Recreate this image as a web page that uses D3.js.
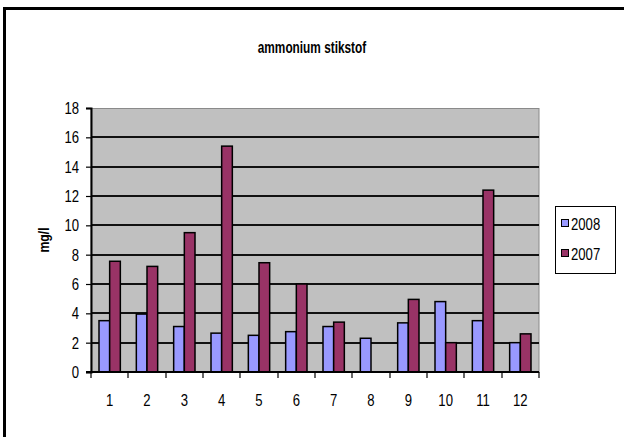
<!DOCTYPE html>
<html>
<head>
<meta charset="utf-8">
<script src="https://cdn.jsdelivr.net/npm/d3@7"></script>
<style>
  html, body { margin: 0; padding: 0; background: #fff; overflow: hidden; }
  svg { display: block; font-family: "Liberation Sans", Arial, sans-serif; }
</style>
</head>
<body>
<svg id="chart" width="624" height="437"></svg>
<script>
// Monthly ammonium nitrogen (mg/l)
const months = ["1","2","3","4","5","6","7","8","9","10","11","12"];
const series = ["2008", "2007"];
const values2008 = [3.5, 3.95, 3.1, 2.65, 2.5, 2.75, 3.1, 2.3, 3.35, 4.8, 3.5, 2.0];
const values2007 = [7.55, 7.2, 9.5, 15.4, 7.45, 6.0, 3.4, 0, 4.95, 2.0, 12.4, 2.6];
const yTicks = [0, 2, 4, 6, 8, 10, 12, 14, 16, 18];
const colors = ["#9999FF", "#993366"];

const svg = d3.select("#chart");
const SX = 0.82; // narrow glyph width

// draws a horizontally condensed label anchored at (x, y)
function label(parent, x, y, txt, opts = {}) {
  return parent.append("text")
    .attr("transform", `translate(${x},${y}) ${opts.rotate ? "rotate(-90) " : ""}scale(${opts.sx || SX},1)`)
    .attr("text-anchor", opts.anchor || "middle")
    .attr("font-size", opts.size || 16)
    .attr("font-weight", opts.bold ? "bold" : null)
    .attr("fill", "#000")
    .text(txt);
}

// outer frame (runs past the right and bottom edges)
svg.append("rect")
  .attr("x", 4.5).attr("y", 8.5).attr("width", 700).attr("height", 600)
  .attr("fill", "#fff").attr("stroke", "#000").attr("stroke-width", 3);

const plot = { left: 91, top: 108, right: 539, bottom: 372 };

const x = d3.scaleBand().domain(months).range([plot.left, plot.right]).padding(0);
const y = d3.scaleLinear().domain([0, 18]).range([plot.bottom, plot.top]);
const barW = x.bandwidth() / 3.5;
const inner = d3.scaleBand().domain(series).range([0, barW * 2]);

// plot background
svg.append("rect")
  .attr("x", plot.left).attr("y", plot.top + 0.5)
  .attr("width", plot.right - plot.left).attr("height", plot.bottom - plot.top)
  .attr("fill", "#C0C0C0").attr("stroke", "#8a8a8a").attr("stroke-width", 1);

// gridlines
svg.append("g").selectAll("line")
  .data(yTicks.filter(d => d > 0 && d < 18))
  .join("line")
  .attr("x1", plot.left).attr("x2", plot.right)
  .attr("y1", d => Math.round(y(d))).attr("y2", d => Math.round(y(d)))
  .attr("stroke", "#111").attr("stroke-width", 2);

// bars
const data = months.map((m, i) => ({ m, vals: [values2008[i], values2007[i]] }));
const groups = svg.append("g").selectAll("g")
  .data(data).join("g")
  .attr("transform", d => `translate(${x(d.m) + (x.bandwidth() - barW * 2) / 2},0)`);
groups.selectAll("rect")
  .data(d => d.vals.map((v, j) => ({ v, s: series[j], j })).filter(e => e.v > 0))
  .join("rect")
  .attr("x", d => inner(d.s))
  .attr("y", d => y(d.v))
  .attr("width", barW)
  .attr("height", d => y(0) - y(d.v))
  .attr("fill", d => colors[d.j])
  .attr("stroke", "#000").attr("stroke-width", 1.5);

// y axis
const yAxis = svg.append("g")
  .attr("transform", `translate(${plot.left},0)`)
  .call(d3.axisLeft(y).tickValues(yTicks).tickSize(5).tickFormat(""));
yAxis.select(".domain").attr("stroke", "#000").attr("stroke-width", 2);
yAxis.selectAll(".tick line").attr("stroke", "#000").attr("stroke-width", 1.2);
yTicks.forEach(t => label(svg, plot.left - 12, y(t) + 6, String(t), { anchor: "end" }));

// x axis with ticks on category boundaries
const xAxisG = svg.append("g").attr("transform", `translate(0,${plot.bottom})`);
xAxisG.append("line")
  .attr("x1", plot.left - 5).attr("x2", plot.right)
  .attr("y1", 0).attr("y2", 0)
  .attr("stroke", "#000").attr("stroke-width", 2);
xAxisG.selectAll("line.tk")
  .data(months.map(m => x(m)).concat([x(months[months.length - 1]) + x.bandwidth()]))
  .join("line").attr("class", "tk")
  .attr("x1", d => Math.round(d)).attr("x2", d => Math.round(d))
  .attr("y1", 0).attr("y2", 6)
  .attr("stroke", "#000").attr("stroke-width", 1.2);
months.forEach(m => label(xAxisG, x(m) + x.bandwidth() / 2, 34, m));

// y axis title
label(svg, 49, (plot.top + plot.bottom) / 2, "mg/l", { rotate: true, bold: true, size: 15 });

// chart title
label(svg, 312, 53, "ammonium stikstof", { bold: true, size: 16, sx: 0.74 });

// legend
const legend = svg.append("g");
legend.append("rect")
  .attr("x", 555.5).attr("y", 206.5).attr("width", 60).attr("height", 67)
  .attr("fill", "#fff").attr("stroke", "#000");
series.forEach((s, i) => {
  const cy = 224 + i * 30;
  legend.append("rect")
    .attr("x", 561.5).attr("y", cy - 4.5).attr("width", 7).attr("height", 7)
    .attr("fill", colors[i]).attr("stroke", "#000");
  label(legend, 571, cy + 5.5, s, { anchor: "start", size: 16 });
});
</script>
</body>
</html>
